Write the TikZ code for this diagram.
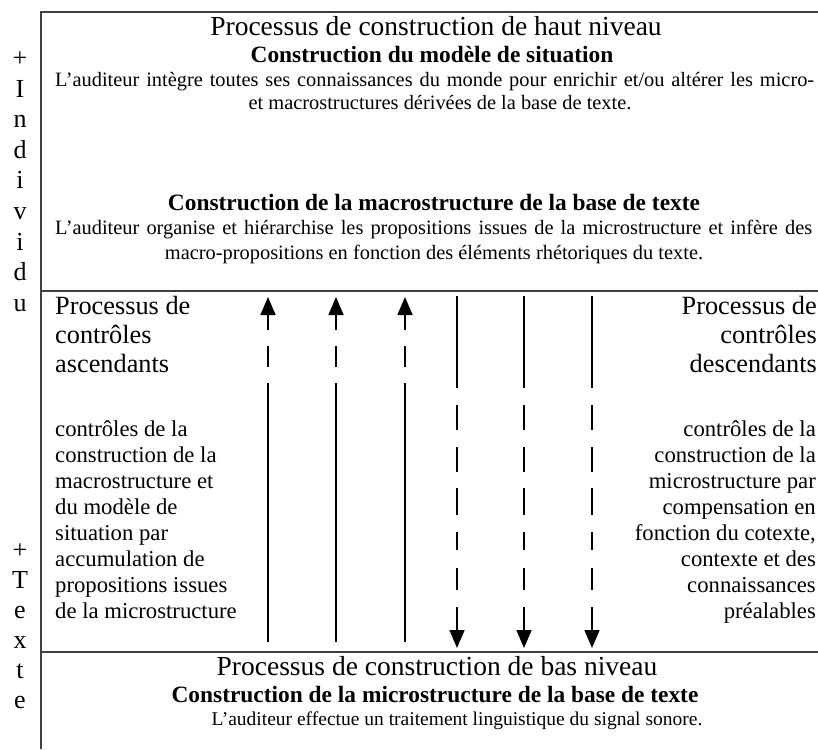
\documentclass[tikz,border=0pt]{standalone}
\usepackage{fontspec}
\setmainfont{Liberation Serif}
\usetikzlibrary{arrows.meta}
\tikzset{
	cadre/.style={line width=1.3pt, black!75},
	titre/.style={font=\fontsize{27.5}{30}\selectfont, anchor=base, inner sep=0pt},
	gras/.style={font=\fontsize{23.4}{26}\selectfont\bfseries, anchor=base, inner sep=0pt},
	corps/.style={font=\fontsize{20.4}{23}\selectfont, anchor=base, inner sep=0pt},
	proc/.style={font=\fontsize{26.3}{30}\selectfont, inner sep=0pt},
	ctrl/.style={font=\fontsize{22.7}{26}\selectfont, inner sep=0pt},
	lettre/.style={font=\fontsize{26}{30}\selectfont, anchor=base, inner sep=0pt},
	fleche/.style={line width=1.6pt, -{Triangle[length=18pt,width=15pt]}}
}
\begin{document}
\begin{tikzpicture}[x=1pt,y=-1pt]
			\useasboundingbox (0,0) rectangle (818,749);
			% cadre
			\draw[cadre] (41,749) -- (41,12) -- (818,12);
			\draw[cadre] (41,291) -- (818,291);
			\draw[cadre] (41,652) -- (818,652);
			% axe vertical
			\foreach \l [count=\i from 0] in {+,I,n,d,i,v,i,d,u}
				\node[lettre] (ind\i) at (20,66.5+30.6*\i) {\l};
			\foreach \l [count=\i from 0] in {+,T,e,x,t,e}
				\node[lettre] (txt\i) at (20,558+30*\i) {\l};
			% haut niveau
			\node[titre] (haut) at (436,36) {Processus de construction de haut niveau};
			\node[gras] (situ) at (432,63) {Construction du modèle de situation};
			\node[corps, anchor=base west] (situa) at (55,87) {\makebox[759pt][s]{L’auditeur intègre toutes ses connaissances du monde pour enrichir et/ou altérer les micro-}};
			\node[corps] (situb) at (440,110) {et macrostructures dérivées de la base de texte.};
			\node[gras] (macro) at (434,210) {Construction de la macrostructure de la base de texte};
			\node[corps, anchor=base west] (macroa) at (55,234) {\makebox[757pt][s]{L’auditeur organise et hiérarchise les propositions issues de la microstructure et infère des}};
			\node[corps] (macrob) at (434,259) {macro-propositions en fonction des éléments rhétoriques du texte.};
			% controles
			\foreach \t [count=\i from 0] in {Processus de,contrôles,ascendants}
				\node[proc, anchor=base west] (asc\i) at (55,314+29*\i) {\t};
			\foreach \t [count=\i from 0] in {Processus de,contrôles,descendants}
				\node[proc, anchor=base east] (desc\i) at (817,314+29*\i) {\t};
			\foreach \t [count=\i from 0] in {contrôles de la,construction de la,macrostructure et,du modèle de,situation par,accumulation de,propositions issues,de la microstructure}
				\node[ctrl, anchor=base west] (ascb\i) at (55,436+26.1*\i) {\t};
			\foreach \t [count=\i from 0] in {contrôles de la,construction de la,microstructure par,compensation en,{fonction du cotexte,},contexte et des,connaissances,préalables}
				\node[ctrl, anchor=base east] (descb\i) at (816,436+26.1*\i) {\t};
			\foreach \x in {268,336,405}
				\draw[fleche, dash pattern=on 259pt off 16pt on 21pt off 16pt on 80pt] (\x,642) -- (\x,297);
			\foreach \x in {457,524,592}
				\draw[fleche, dash pattern=on 92pt off 17pt on 25pt off 17pt on 25pt off 16pt on 27pt off 17pt on 18pt off 18pt on 22pt off 17pt on 80pt] (\x,296) -- (\x,648);
			% bas niveau
			\node[titre] (bas) at (437,675) {Processus de construction de bas niveau};
			\node[gras] (micro) at (435,702) {Construction de la microstructure de la base de texte};
			\node[corps, font=\fontsize{19.5}{22}\selectfont] (microa) at (457,725) {L’auditeur effectue un traitement linguistique du signal sonore.};
		\end{tikzpicture}
\end{document}
